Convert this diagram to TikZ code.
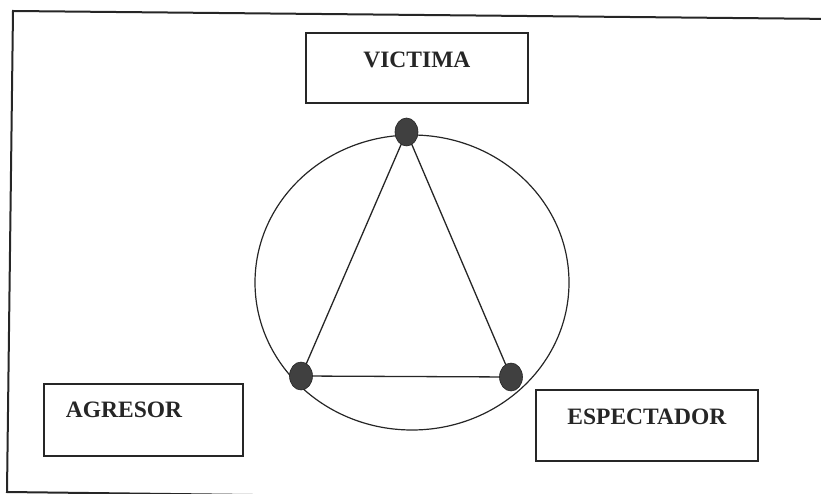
\documentclass[tikz,border=0pt]{standalone}
\usepackage{fontspec}
\setmainfont{Liberation Serif}
\usepackage{tikz}
\usetikzlibrary{shapes.geometric, positioning}

\begin{document}
\begin{tikzpicture}[x=1pt, y=-1pt,
  frame/.style={draw=black!85, line width=2pt},
  rolebox/.style={draw=black!85, line width=1.8pt, anchor=north west,
    inner xsep=0pt, inner ysep=0pt, minimum width=222pt,
    font=\fontsize{23.5}{27}\selectfont\bfseries, text=black!85},
  ring/.style={ellipse, draw=black!85, line width=1.2pt, inner sep=0pt,
    minimum width=314pt, minimum height=295pt},
  edge/.style={draw=black!85, line width=1.3pt},
  vertexdot/.style={ellipse, fill=black!75, draw=black!85, line width=0.6pt,
    inner sep=0pt, minimum width=23pt, minimum height=28pt}
]
\useasboundingbox (0,0) rectangle (821,494);
\clip (0,0) rectangle (821,494);

%% ── Frame ──
\draw[frame] (13,11) -- (835,19) -- (827,502) -- (7,492) -- cycle;

%% ── Roles ──
\node[rolebox, text height=35pt, text depth=35pt] (victima) at (305,32) {VICTIMA};
\node[rolebox, text height=34pt, text depth=38pt, minimum width=0pt,
  inner xsep=22pt, text width=155pt, align=left] (agresor) at (43,383) {AGRESOR};
\node[rolebox, text height=35pt, text depth=36pt] (espectador) at (535,389) {ESPECTADOR};

%% ── Circle and triangle ──
\node[ring] (circulo) at (412,282.5) {};

\coordinate (pv) at (406.5,132);
\coordinate (pa) at (301,376);
\coordinate (pe) at (511,377);

\draw[edge] (pv) -- (pa) -- (pe) -- cycle;

\node[vertexdot] (dv) at (pv) {};
\node[vertexdot] (da) at (pa) {};
\node[vertexdot] (de) at (pe) {};

\end{tikzpicture}
\end{document}
